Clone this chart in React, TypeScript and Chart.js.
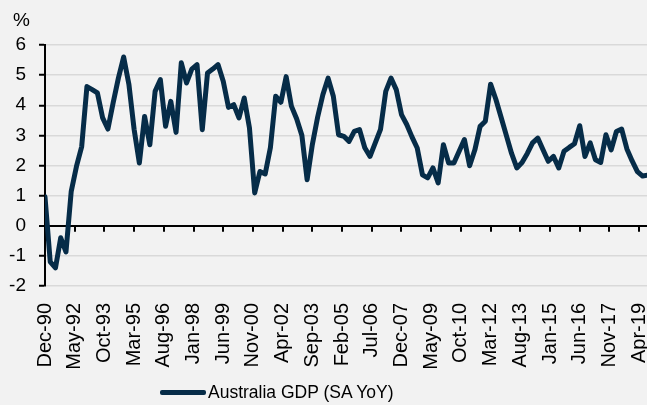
import React, { useEffect, useRef } from "react";
import { Chart, registerables } from "chart.js";

Chart.register(...registerables);

// ---- data ----
const monthNames = ["Jan", "Feb", "Mar", "Apr", "May", "Jun", "Jul", "Aug", "Sep", "Oct", "Nov", "Dec"];
const firstYear = 1990;
const firstMonth = 11; // December (0-based)
const monthsPerQuarter = 3;
const seriesLabel = "Australia GDP (SA YoY)";
const unitLabel = "%";

// Quarterly values, Dec-90 onward
const gdpYoY = [
  0.96, -1.2, -1.4, -0.4, -0.87, 1.14, 1.97, 2.63, 4.62, 4.52,
  4.41, 3.58, 3.21, 4.08, 4.9, 5.6, 4.7, 3.2, 2.08, 3.63,
  2.69, 4.46, 4.85, 3.3, 4.13, 3.1, 5.41, 4.74, 5.2, 5.35,
  3.19, 5.07, 5.2, 5.35, 4.8, 3.93, 4.02, 3.58, 4.24, 3.25,
  1.09, 1.8, 1.72, 2.6, 4.3, 4.1, 4.95, 3.97, 3.55, 3.0,
  1.53, 2.7, 3.6, 4.35, 4.9, 4.3, 3.02, 2.97, 2.8, 3.13,
  3.19, 2.59, 2.3, 2.75, 3.2, 4.46, 4.9, 4.52, 3.69, 3.36,
  2.95, 2.58, 1.69, 1.59, 1.92, 1.42, 2.69, 2.08, 2.08, 2.47,
  2.86, 1.99, 2.52, 3.3, 3.47, 4.7, 4.2, 3.6, 3.0, 2.4,
  1.92, 2.1, 2.4, 2.75, 2.91, 2.52, 2.14, 2.3, 1.92, 2.47,
  2.6, 2.72, 3.32, 2.3, 2.75, 2.19, 2.1, 3.02, 2.52, 3.13,
  3.21, 2.55, 2.15, 1.8, 1.65, 1.68,
];

const yMin = -2;
const yMax = 6;
const yStep = 1;
const xTickStepMonths = 17;
const xMaxMonths = 344.5;

const lineColor = "#062c48";
const fontFamily = "'Liberation Sans', Arial, sans-serif";

function monthLabel(v: number): string {
  const total = firstMonth + Math.round(v);
  const year = firstYear + Math.floor(total / 12);
  const m = total % 12;
  return `${monthNames[m]}-${String(year % 100).padStart(2, "0")}`;
}

const extrasPlugin = {
  id: "extras",
  beforeDatasetsDraw(chart: any) {
    const { ctx, scales } = chart;
    const x = scales.x;
    const y = scales.y;
    const y0 = y.getPixelForValue(0);
    ctx.save();
    ctx.strokeStyle = "#000";
    ctx.lineWidth = 2;
    x.ticks.forEach((t: any) => {
      const px = Math.round(x.getPixelForValue(t.value));
      ctx.beginPath();
      ctx.moveTo(px, y0);
      ctx.lineTo(px, y0 + 6);
      ctx.stroke();
    });
    ctx.restore();
  },
  afterDraw(chart: any) {
    const { ctx } = chart;
    ctx.save();
    ctx.fillStyle = "#000";
    ctx.font = `19px ${fontFamily}`;
    ctx.textBaseline = "middle";
    ctx.textAlign = "left";
    ctx.fillText(unitLabel, 13, 21);
    ctx.restore();
  },
};

export default function App() {
  const canvasRef = useRef<HTMLCanvasElement | null>(null);

  useEffect(() => {
    const canvas = canvasRef.current;
    if (!canvas) return;
    const points = gdpYoY.map((v, i) => ({ x: i * monthsPerQuarter, y: v }));
    const chart = new Chart(canvas, {
      type: "line",
      data: {
        datasets: [
          {
            label: seriesLabel,
            data: points,
            borderColor: lineColor,
            backgroundColor: lineColor,
            borderWidth: 5,
            pointRadius: 0,
            tension: 0,
            borderJoinStyle: "round",
            borderCapStyle: "round",
          },
        ],
      },
      options: {
        animation: false,
        responsive: false,
        maintainAspectRatio: false,
        layout: { padding: { top: 45, left: 0, right: 0, bottom: 0 } },
        plugins: {
          legend: { display: false },
          tooltip: { enabled: false },
        },
        scales: {
          x: {
            type: "linear",
            min: 0,
            max: xMaxMonths,
            grid: { display: false },
            border: { display: false },
            ticks: {
              stepSize: xTickStepMonths,
              includeBounds: false,
              autoSkip: false,
              maxRotation: 90,
              minRotation: 90,
              padding: 9,
              color: "#000",
              font: { family: fontFamily, size: 20 },
              callback: (v: any) => monthLabel(Number(v)),
            },
            afterFit: (scale: any) => {
              scale.height = 119;
              scale.paddingLeft = 0;
              scale.paddingRight = 0;
            },
          },
          y: {
            min: yMin,
            max: yMax,
            ticks: {
              stepSize: yStep,
              padding: 13,
              color: "#000",
              font: { family: fontFamily, size: 19 },
            },
            grid: {
              color: (c: any) => (c.tick && c.tick.value === 0 ? "#000" : "#d9d9d9"),
              lineWidth: (c: any) => (c.tick && c.tick.value === 0 ? 2 : 1.5),
              tickColor: "#000",
              tickLength: 6,
              tickWidth: 2,
            },
            border: { display: true, color: "#000", width: 2 },
            afterFit: (scale: any) => {
              scale.width = 45;
            },
          },
        },
      },
      plugins: [extrasPlugin],
    });
    return () => chart.destroy();
  }, []);

  return (
    <div
      style={{
        position: "fixed",
        left: 0,
        top: 0,
        width: 647,
        height: 405,
        background: "#f2f2f2",
        overflow: "hidden",
      }}
    >
      <canvas ref={canvasRef} width={647} height={405} style={{ display: "block" }} />
      <div
        style={{
          position: "absolute",
          left: 160,
          top: 381,
          height: 22,
          display: "flex",
          alignItems: "center",
          fontFamily,
          fontSize: 17.5,
          color: "#000",
          whiteSpace: "nowrap",
        }}
      >
        <span style={{ display: "inline-block", width: 46, height: 5, background: lineColor, borderRadius: 2, marginRight: 2 }} />
        <span>{seriesLabel}</span>
      </div>
    </div>
  );
}
